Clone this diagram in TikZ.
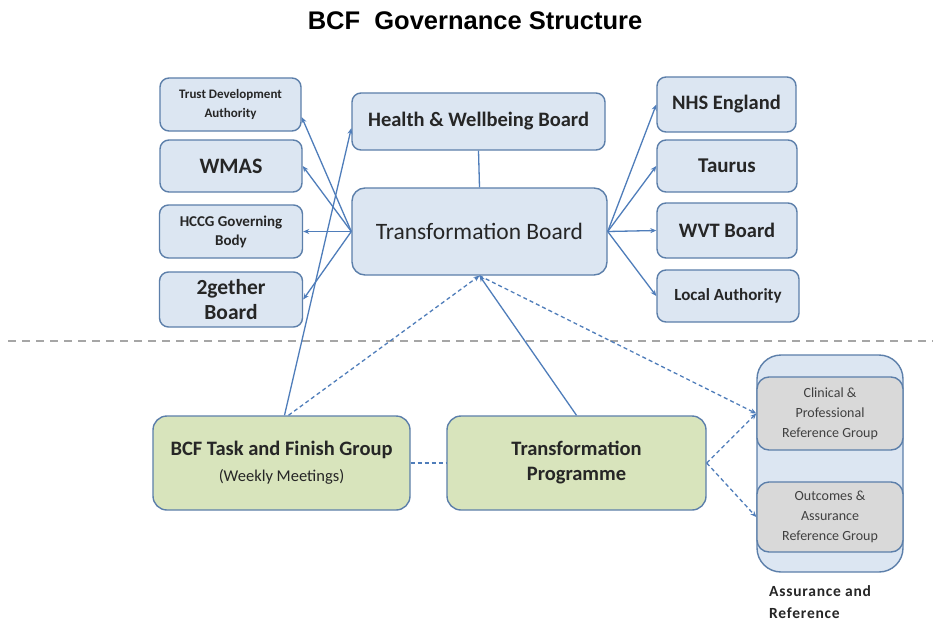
\documentclass[tikz,border=0pt]{standalone}
\usepackage{fontspec}
\setmainfont{Carlito}
\newfontfamily\titlefont{Liberation Sans}
\usetikzlibrary{arrows.meta,calc}

\definecolor{boxfill}{HTML}{DCE6F2}
\definecolor{boxline}{HTML}{5C7FAA}
\definecolor{greenfill}{HTML}{D8E4BC}
\definecolor{grayfill}{HTML}{D9D9D9}
\definecolor{arrowcol}{HTML}{4F7DBA}
\definecolor{sepcol}{HTML}{A6A6A6}

\tikzset{
  box/.style={draw=boxline, fill=boxfill, line width=1.4pt, rounded corners=9pt,
    align=center, inner sep=2pt, font=\bfseries, text=black!85},
  greenbox/.style={box, fill=greenfill, rounded corners=14pt},
  graybox/.style={box, fill=grayfill, rounded corners=12pt, font=\fontsize{14}{20}\selectfont, text=black!75},
  link/.style={draw=arrowcol, line width=1.3pt, -{Stealth[length=6pt,width=5pt]}},
  plain/.style={draw=arrowcol, line width=1.3pt},
  dlink/.style={link, dashed, dash pattern=on 4pt off 3pt},
}

\begin{document}
\begin{tikzpicture}[x=1pt,y=-1pt]
\useasboundingbox[fill=white] (0,0) rectangle (933,623);

% title
\node (title) at (475,21) {\titlefont\bfseries\fontsize{25.5}{30}\selectfont BCF\ \ Governance\ Structure};

% separator between governance and delivery
\coordinate (sepL) at (8,341);
\coordinate (sepR) at (933,341);
\draw[sepcol, line width=1.4pt, dash pattern=on 8pt off 6pt] (sepL) -- (sepR);

% left column
\node[box, minimum width=141pt, minimum height=53pt, font=\bfseries\fontsize{13}{19}\selectfont] (tda) at (230.5,104.5) {Trust Development\\Authority};
\node[box, minimum width=142pt, minimum height=52pt, font=\bfseries\fontsize{22}{26}\selectfont] (wmas) at (231,166) {WMAS};
\node[box, minimum width=143pt, minimum height=53pt, font=\bfseries\fontsize{15}{19}\selectfont] (hccg) at (231,231.5) {HCCG Governing\\Body};
\node[box, minimum width=143pt, minimum height=55pt, font=\bfseries\fontsize{21.5}{25}\selectfont] (tog) at (231,299.5) {2gether\\Board};

% centre column
\node[box, minimum width=253pt, minimum height=57pt, font=\bfseries\fontsize{20.5}{24}\selectfont] (hwb) at (478.5,121.5) {Health \& Wellbeing Board};
\node[box, minimum width=255pt, minimum height=87pt, rounded corners=13pt, font=\fontsize{23.5}{28}\selectfont] (tb) at (479.5,231.5) {Transformation Board};

% right column
\node[box, minimum width=139pt, minimum height=55pt, font=\bfseries\fontsize{20.5}{24}\selectfont] (nhs) at (726.5,104.5) {NHS England};
\node[box, minimum width=140pt, minimum height=52pt, font=\bfseries\fontsize{21}{24}\selectfont] (taurus) at (727,166) {Taurus};
\node[box, minimum width=140pt, minimum height=55pt, font=\bfseries\fontsize{20.5}{24}\selectfont] (wvt) at (727,230.5) {WVT Board};
\node[box, minimum width=142pt, minimum height=52pt, font=\bfseries\fontsize{17}{20}\selectfont] (la) at (728,296) {Local Authority};

% delivery groups
\node[greenbox, minimum width=257pt, minimum height=94pt, font=\fontsize{20.5}{25}\selectfont] (bcf) at (281.5,463)
  {\textbf{BCF Task and Finish Group}\\[1pt]{\fontsize{16.5}{19}\selectfont (Weekly Meetings)}};
\node[greenbox, minimum width=259pt, minimum height=94pt, font=\bfseries\fontsize{20.5}{25}\selectfont] (tp) at (576.5,463)
  {Transformation\\Programme};

% assurance and reference container
\node[box, minimum width=146pt, minimum height=217pt, rounded corners=24pt] (ar) at (830,463.5) {};
\node[graybox, minimum width=146pt, minimum height=73pt] (clin) at (830,413.5) {Clinical \&\\Professional\\Reference Group};
\node[graybox, minimum width=146pt, minimum height=70pt] (outc) at (830,517) {Outcomes \&\\Assurance\\Reference Group};
\node[anchor=north west, align=left, inner sep=0pt, font=\bfseries\fontsize{15.5}{22}\selectfont, text=black!85] (arlabel) at (769,585)
  {\addfontfeature{LetterSpace=5}Assurance and\\\addfontfeature{LetterSpace=5}Reference};

% governance links
\draw[link] (tb.west) -- (tda.-10);
\draw[link] (tb.west) -- (wmas.east);
\draw[link] (tb.west) -- (hccg.east);
\draw[link] (tb.west) -- (tog.east);
\draw[link] (tb.east) -- (nhs.west);
\draw[link] (tb.east) -- (taurus.west);
\draw[link] (tb.east) -- (wvt.west);
\draw[link] (tb.east) -- (la.west);
\draw[plain] (hwb.south) -- (tb.north);

% reporting lines from delivery groups
\draw[link] ($(bcf.north)+(3,0)$) -- (hwb.-177);
\draw[dlink] ($(bcf.north)+(7,0)$) -- (tb.south);
\draw[link] (tp.north) -- (tb.south);
\draw[dlink] (tb.south) -- (clin.west);
\draw[dlink] (tp.east) -- (clin.west);
\draw[dlink] (tp.east) -- (outc.west);
\draw[plain, dashed, dash pattern=on 4pt off 3pt] (bcf.east) -- (tp.west);
\end{tikzpicture}
\end{document}
